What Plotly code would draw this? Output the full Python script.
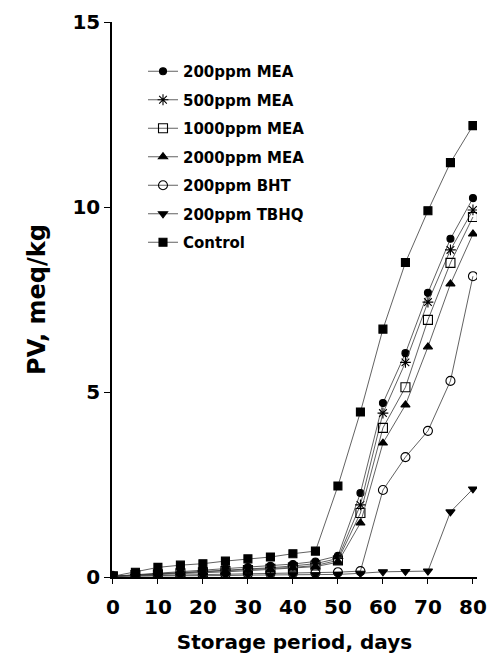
import plotly.graph_objects as go

days = [0, 5, 10, 15, 20, 25, 30, 35, 40, 45, 50, 55, 60, 65, 70, 75, 80]

mea200 = [0.02, 0.06, 0.10, 0.15, 0.20, 0.23, 0.27, 0.30, 0.35, 0.42, 0.57, 2.27, 4.70, 6.05, 7.68, 9.14, 10.24]
mea500 = [0.02, 0.05, 0.08, 0.12, 0.16, 0.19, 0.22, 0.25, 0.30, 0.36, 0.50, 1.95, 4.43, 5.80, 7.43, 8.84, 9.92]
mea1000 = [0.02, 0.05, 0.07, 0.10, 0.13, 0.16, 0.19, 0.22, 0.26, 0.31, 0.45, 1.73, 4.03, 5.13, 6.95, 8.49, 9.73]
mea2000 = [0.02, 0.04, 0.06, 0.09, 0.11, 0.14, 0.17, 0.20, 0.24, 0.28, 0.40, 1.46, 3.62, 4.65, 6.22, 7.92, 9.27]
bht200 = [0.02, 0.03, 0.04, 0.05, 0.06, 0.07, 0.08, 0.09, 0.10, 0.11, 0.13, 0.16, 2.35, 3.24, 3.95, 5.30, 8.13]
tbhq200 = [0.02, 0.02, 0.03, 0.03, 0.04, 0.04, 0.05, 0.05, 0.06, 0.06, 0.07, 0.10, 0.14, 0.15, 0.16, 1.76, 2.38]
control = [0.02, 0.13, 0.26, 0.32, 0.36, 0.43, 0.49, 0.54, 0.63, 0.70, 2.46, 4.46, 6.70, 8.50, 9.90, 11.20, 12.20]

series_names = ["200ppm MEA", "500ppm MEA", "1000ppm MEA", "2000ppm MEA",
                "200ppm BHT", "200ppm TBHQ", "Control"]
series_values = [mea200, mea500, mea1000, mea2000, bht200, tbhq200, control]
symbols = ["circle", "asterisk-open", "square-open", "triangle-up",
           "circle-open", "triangle-down", "square"]
sizes = [7, 9, 9, 8, 9, 8, 8]

x_ticks = [0, 10, 20, 30, 40, 50, 60, 70, 80]
y_ticks = [0, 5, 10, 15]

FONT = "DejaVu Sans"

fig = go.Figure()
for i, (name, vals, sym, sz) in enumerate(zip(series_names, series_values, symbols, sizes)):
    fig.add_trace(go.Scatter(
        x=days, y=vals, name=name, mode="lines+markers",
        legendgroup=f"g{i}",
        line=dict(color="#3a3a3a", width=0.8),
        marker=dict(symbol=sym, size=sz, color="black",
                    line=dict(color="black", width=1.1)),
    ))

fig.update_layout(
    width=492, height=657,
    margin=dict(l=112, r=15, t=22, b=80),
    paper_bgcolor="white", plot_bgcolor="white",
    showlegend=True,
    legend=dict(
        x=(143 - 112) / 365, y=(577 - 55) / 555,
        xanchor="left", yanchor="top",
        traceorder="grouped", tracegroupgap=6,
        itemwidth=30,
        font=dict(family=FONT, size=15, color="black", weight="bold"),
        bgcolor="rgba(0,0,0,0)",
    ),
    xaxis=dict(
        range=[-0.2, 80.9], tickvals=x_ticks, ticktext=[str(v) for v in x_ticks],
        showline=True, linecolor="black", linewidth=2,
        ticks="outside", ticklen=5, tickcolor="black",
        showgrid=False, zeroline=False, automargin=False,
        tickfont=dict(family=FONT, size=20, color="black", weight="bold"),
        ticklabelstandoff=6,
        title=dict(text="Storage period, days", standoff=17,
                   font=dict(family=FONT, size=20, color="black", weight="bold")),
    ),
    yaxis=dict(
        range=[0, 15], tickvals=y_ticks, ticktext=[str(v) for v in y_ticks],
        showline=True, linecolor="black", linewidth=1.5,
        ticks="outside", ticklen=6, tickcolor="black",
        showgrid=False, zeroline=False, automargin=False,
        tickfont=dict(family=FONT, size=20, color="black", weight="bold"),
        title=dict(text="PV, meq/kg", standoff=20,
                   font=dict(family=FONT, size=24, color="black", weight="bold")),
    ),
)

fig.write_html("out.html")
